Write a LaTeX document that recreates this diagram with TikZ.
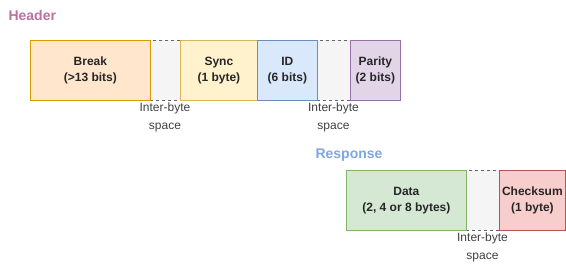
\documentclass[tikz,border=0pt]{standalone}
\usepackage{fontspec}
\setmainfont{Liberation Sans}
\begin{document}
\begin{tikzpicture}[x=1pt,y=-1pt,
  field/.style={draw, line width=0.8pt, minimum height=60pt, inner sep=0pt, align=center, font=\fontsize{12}{16}\selectfont\bfseries, text=black!85, anchor=north west},
  gapbox/.style={draw=black!60, dashed, fill=black!4, line width=0.6pt, minimum height=60pt, inner sep=0pt, anchor=north west},
  gaplabel/.style={align=center, font=\fontsize{12}{18}\selectfont, text=black!75, anchor=north},
  title/.style={font=\fontsize{14}{16}\selectfont\bfseries, anchor=west}]
\useasboundingbox (0,0) rectangle (566,263);
\node[title, text={rgb,255:red,181;green,115;blue,157}] (hdr) at (5,15) {Header};
\node[gapbox, minimum width=30pt] (g1) at (150,40) {};
\node[gapbox, minimum width=33pt] (g2) at (317,40) {};
\node[field, minimum width=120pt, fill={rgb,255:red,255;green,230;blue,204}, draw={rgb,255:red,215;green,155;blue,0}] (brk) at (30,40) {Break\\(>13 bits)};
\node[field, minimum width=77pt, fill={rgb,255:red,255;green,242;blue,204}, draw={rgb,255:red,214;green,182;blue,86}] (sync) at (180,40) {Sync\\(1 byte)};
\node[field, minimum width=60pt, fill={rgb,255:red,218;green,232;blue,252}, draw={rgb,255:red,108;green,142;blue,191}] (id) at (257,40) {ID\\(6 bits)};
\node[field, minimum width=50pt, fill={rgb,255:red,225;green,213;blue,231}, draw={rgb,255:red,150;green,115;blue,166}] (par) at (350,40) {Parity\\(2 bits)};
\node[gaplabel] (l1) at (165,99) {Inter-byte\\space};
\node[gaplabel] (l2) at (333.5,99) {Inter-byte\\space};
\node[title, text={rgb,255:red,126;green,166;blue,224}] (rsp) at (312,155) {Response};
\node[gapbox, minimum width=33pt] (g3) at (466,170) {};
\node[field, minimum width=120pt, fill={rgb,255:red,213;green,232;blue,212}, draw={rgb,255:red,130;green,179;blue,102}] (data) at (346,170) {Data\\(2, 4 or 8 bytes)};
\node[field, minimum width=66pt, fill={rgb,255:red,248;green,206;blue,204}, draw={rgb,255:red,184;green,84;blue,80}] (chk) at (499,170) {Checksum\\(1 byte)};
\node[gaplabel] (l3) at (482.5,229) {Inter-byte\\space};
\end{tikzpicture}
\end{document}
